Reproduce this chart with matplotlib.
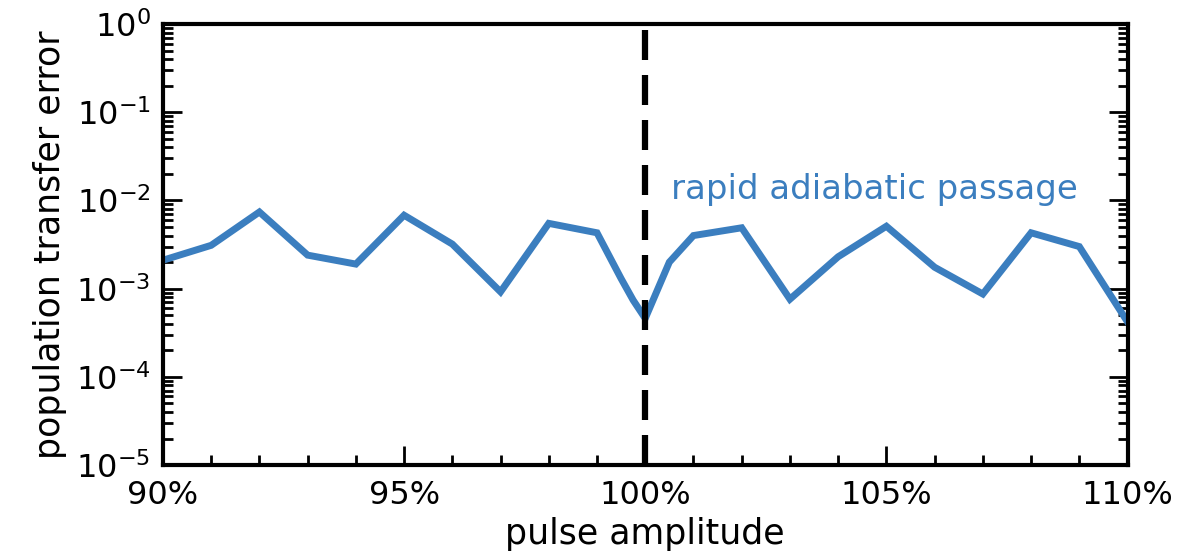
import numpy as np
import matplotlib
matplotlib.use("Agg")
import matplotlib.pyplot as plt
from matplotlib.ticker import FixedLocator, FuncFormatter, LogLocator, NullFormatter

# pulse amplitude (%) and population transfer error
amplitude = [90, 91, 92, 93, 94, 95, 96, 97, 98, 99, 99.5, 99.75, 100,
             100.25, 100.5, 101, 102, 103, 104, 105, 106, 107, 108, 109, 110]
error = [2.1e-3, 3.1e-3, 7.4e-3, 2.4e-3, 1.9e-3, 6.8e-3, 3.2e-3, 9.2e-4,
         5.5e-3, 4.3e-3, 1.3e-3, 7.4e-4, 4.6e-4,
         9.6e-4, 2.0e-3, 4.0e-3, 4.9e-3, 7.6e-4, 2.3e-3, 5.1e-3, 1.75e-3,
         8.7e-4, 4.3e-3, 3.0e-3, 4.2e-4]
x_ticks = [90, 95, 100, 105, 110]
label_text = "rapid adiabatic passage"
blue = "#3b7ebf"

fig = plt.figure(figsize=(11.85, 5.59), dpi=100)
ax = fig.add_axes([0.1375, 0.168, 0.814, 0.789])

ax.plot(amplitude, error, color=blue, lw=5, solid_joinstyle="miter")
ax.axvline(100, color="black", lw=4.5, dashes=(4.8, 2.4))

ax.set_yscale("log")
ax.set_xlim(90, 110)
ax.set_ylim(1e-5, 1)

ax.xaxis.set_major_locator(FixedLocator(x_ticks))
ax.xaxis.set_minor_locator(FixedLocator(np.arange(90, 111, 1)))
ax.xaxis.set_major_formatter(FuncFormatter(lambda v, p: "%d%%" % v))
ax.yaxis.set_major_locator(LogLocator(base=10, numticks=10))
ax.yaxis.set_minor_locator(LogLocator(base=10, subs=np.arange(2, 10), numticks=20))
ax.yaxis.set_minor_formatter(NullFormatter())

ax.tick_params(which="both", direction="in", top=False, right=True,
               labelsize=23, width=2, colors="black")
ax.tick_params(which="major", length=14)
ax.tick_params(axis="x", which="major", pad=11)
ax.tick_params(axis="y", which="major", pad=9)
ax.tick_params(which="minor", length=7)
for s in ax.spines.values():
    s.set_linewidth(3)

ax.set_xlabel("pulse amplitude", fontsize=25, labelpad=4)
ax.set_ylabel("population transfer error", fontsize=25, labelpad=6)

ax.text(0.527, 0.624, label_text, transform=ax.transAxes, color=blue,
        fontsize=24.5, ha="left", va="center")

fig.savefig("out.png", dpi=100)
